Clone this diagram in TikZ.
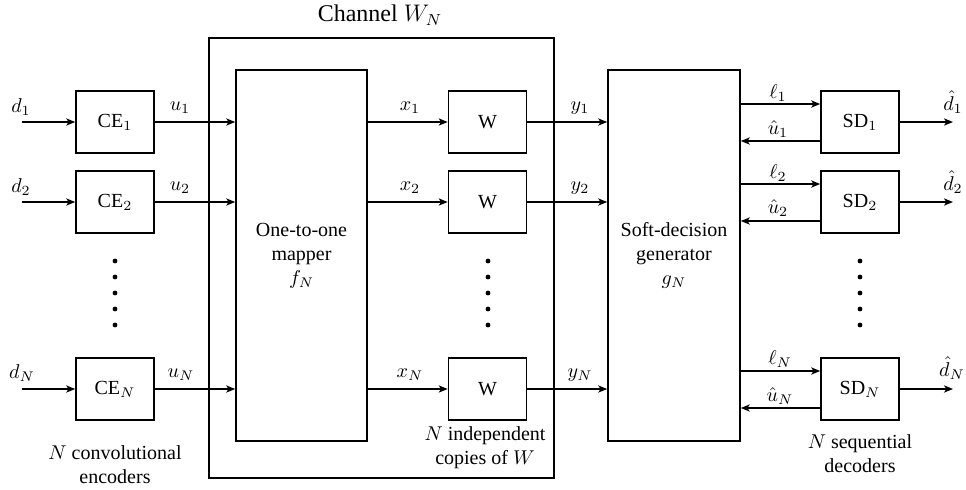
\documentclass[tikz,border=0pt]{standalone}
\usepackage{fontspec}
\setmainfont{LiberationSerif}[Extension=.ttf, UprightFont=*-Regular, BoldFont=*-Bold, ItalicFont=*-Italic, BoldItalicFont=*-BoldItalic]
\usetikzlibrary{arrows.meta}
\begin{document}
\begin{tikzpicture}[x=0.5pt,y=-0.5pt,
  blk/.style={draw, line width=0.8pt, inner sep=0pt, minimum width=39pt, minimum height=31pt},
  big/.style={draw, line width=0.8pt, inner sep=0pt, minimum width=65.5pt, minimum height=185.5pt, align=center},
  chanbox/.style={draw, line width=0.8pt, inner sep=0pt, minimum width=172.5pt, minimum height=220pt},
  arr/.style={line width=0.8pt, -{Stealth[length=4.5pt,width=3.6pt,inset=1.2pt]}},
  lbl/.style={inner sep=0pt},
  txt/.style={inner sep=0pt, align=center},
  dotc/.style={circle, fill, inner sep=0pt, minimum size=2.4pt}]
\useasboundingbox (0,0) rectangle (966,489);

% channel
\node[chanbox] (chan) at (381.5,258) {};
\node[font=\large, inner sep=0pt] (chanlbl) at (380,15) {Channel $W_N$};

% blocks
\node[blk] (ce1) at (115,122) {CE$_1$};
\node[blk] (ce2) at (115,202) {CE$_2$};
\node[blk] (ceN) at (115,389) {CE$_N$};
\node[big] (map) at (301.5,255.5) {One-to-one\\mapper\\$f_N$};
\node[blk] (w1) at (487.5,122) {W};
\node[blk] (w2) at (487.5,202) {W};
\node[blk] (wN) at (487.5,389) {W};
\node[big, minimum width=66pt] (sdg) at (674,255.5) {Soft-decision\\generator\\$g_N$};
\node[blk] (sd1) at (860,122) {SD$_1$};
\node[blk] (sd2) at (860,202) {SD$_2$};
\node[blk] (sdN) at (860,389) {SD$_N$};

% free ends
\coordinate (din1) at (22,122);
\coordinate (din2) at (22,202);
\coordinate (dinN) at (22,389);
\coordinate (dout1) at (953,122);
\coordinate (dout2) at (953,202);
\coordinate (doutN) at (953,389);

% rows
\foreach \r in {1,2,N}{
  \draw[arr] (din\r) -- (ce\r.west);
  \draw[arr] (ce\r.east) -- (ce\r.east -| map.west);
  \draw[arr] (map.east |- w\r.west) -- (w\r.west);
  \draw[arr] (w\r.east) -- (w\r.east -| sdg.west);
  \coordinate (l\r) at ([yshift=9pt]sd\r.west);
  \coordinate (h\r) at ([yshift=-9.5pt]sd\r.west);
  \draw[arr] (sdg.east |- l\r) -- (l\r);
  \draw[arr] (h\r) -- (sdg.east |- h\r);
  \draw[arr] (sd\r.east) -- (dout\r);
}

% labels
\node[lbl] (ld1) at (21,107) {$d_1$};
\node[lbl] (ld2) at (21,187) {$d_2$};
\node[lbl] (ldN) at (22,373) {$d_N$};
\node[lbl] (lu1) at (180,108) {$u_1$};
\node[lbl] (lu2) at (180,188) {$u_2$};
\node[lbl] (luN) at (181,375) {$u_N$};
\node[lbl] (lx1) at (410,108) {$x_1$};
\node[lbl] (lx2) at (410,188) {$x_2$};
\node[lbl] (lxN) at (410,375) {$x_N$};
\node[lbl] (ly1) at (580,108) {$y_1$};
\node[lbl] (ly2) at (580,188) {$y_2$};
\node[lbl] (lyN) at (580,375) {$y_N$};
\node[lbl] (ll1) at (778,93) {$\ell_1$};
\node[lbl] (ll2) at (778,173) {$\ell_2$};
\node[lbl] (llN) at (780,359) {$\ell_N$};
\node[lbl] (lh1) at (778,129) {$\hat{u}_1$};
\node[lbl] (lh2) at (778,208) {$\hat{u}_2$};
\node[lbl] (lhN) at (780,396) {$\hat{u}_N$};
\node[lbl] (lo1) at (953,102) {$\hat{d}_1$};
\node[lbl] (lo2) at (953,182) {$\hat{d}_2$};
\node[lbl] (loN) at (952,368) {$\hat{d}_N$};

% dots
\foreach \c/\x in {a/115,b/488,c/860}{
  \foreach \k/\y in {1/261,2/277,3/293,4/309,5/325}{
    \node[dotc] (dot\c\k) at (\x,\y) {};
  }
}

% captions
\node[txt] (enc) at (115,465) {$N$ convolutional\\encoders};
\node[txt] (cop) at (485,448) {$N$ independent\\copies of $W$};
\node[txt] (dec) at (860,454) {$N$ sequential\\decoders};
\end{tikzpicture}
\end{document}
